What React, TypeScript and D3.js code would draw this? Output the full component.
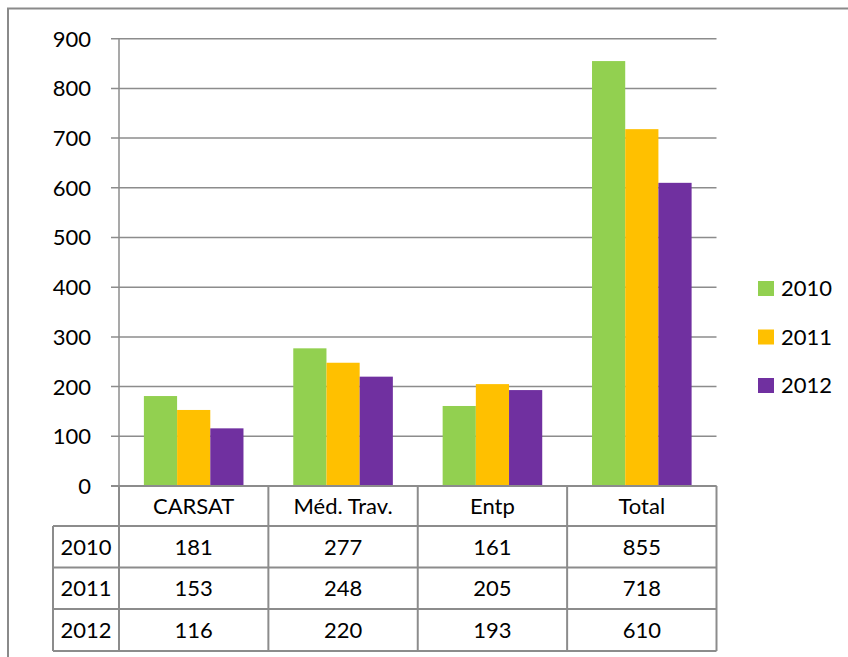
import React, { useEffect, useRef } from "react";
import * as d3 from "d3";

// categories and series
const categories = ["CARSAT", "Méd. Trav.", "Entp", "Total"];
const years = ["2010", "2011", "2012"];
const values2010 = [181, 277, 161, 855];
const values2011 = [153, 248, 205, 718];
const values2012 = [116, 220, 193, 610];
const yTicks = [0, 100, 200, 300, 400, 500, 600, 700, 800, 900];
const colors = ["#92D050", "#FFC000", "#7030A0"];

export default function App() {
  const ref = useRef<SVGSVGElement | null>(null);

  useEffect(() => {
    const width = 848;
    const height = 657;
    const font = "Lato, 'Open Sans', sans-serif";
    const fontSize = 22;
    const grid = "#8c8c8c";
    const plot = { left: 119, right: 716.5, top: 38.7, bottom: 486 };
    const rowLines = [526, 567.5, 609, 651];
    const labelColLeft = 53;

    const series = [values2010, values2011, values2012];

    const svg = d3.select(ref.current);
    svg.selectAll("*").remove();
    svg.attr("width", width).attr("height", height).attr("viewBox", [0, 0, width, height]);

    svg.append("rect").attr("width", width).attr("height", height).attr("fill", "white");

    // outer chart frame (only top and left are in view)
    svg
      .append("path")
      .attr("d", `M8,${height} L8,8.5 L${width},8.5`)
      .attr("fill", "none")
      .attr("stroke", "#8a8a8a")
      .attr("stroke-width", 2);

    const x = d3.scaleBand().domain(categories).range([plot.left, plot.right]).padding(0);
    const xs = d3
      .scaleBand()
      .domain(years)
      .range([0, x.bandwidth()])
      .paddingInner(0)
      .paddingOuter(0.75);
    const y = d3.scaleLinear().domain([0, 900]).range([plot.bottom, plot.top]);

    // gridlines + tick marks
    const gridG = svg.append("g");
    gridG
      .selectAll("line")
      .data(yTicks)
      .join("line")
      .attr("x1", plot.left - 8)
      .attr("x2", plot.right)
      .attr("y1", d => y(d))
      .attr("y2", d => y(d))
      .attr("stroke", grid)
      .attr("stroke-width", 1.5);

    gridG
      .append("line")
      .attr("x1", plot.left)
      .attr("x2", plot.left)
      .attr("y1", plot.top)
      .attr("y2", plot.bottom)
      .attr("stroke", grid)
      .attr("stroke-width", 1.5);

    svg
      .append("g")
      .attr("font-family", font)
      .attr("font-size", fontSize)
      .attr("text-anchor", "end")
      .selectAll("text")
      .data(yTicks)
      .join("text")
      .attr("x", 91)
      .attr("y", d => y(d))
      .attr("dy", "0.36em")
      .text(d => d);

    // bars
    const serie = svg
      .append("g")
      .selectAll("g")
      .data(series)
      .join("g")
      .attr("fill", (d, i) => colors[i]);

    serie
      .selectAll("rect")
      .data((d, i) => d.map((v, j) => ({ v, cat: categories[j], year: years[i] })))
      .join("rect")
      .attr("x", d => (x(d.cat) as number) + (xs(d.year) as number))
      .attr("width", xs.bandwidth())
      .attr("y", d => y(d.v))
      .attr("height", d => y(0) - y(d.v));

    // data table
    const table = svg.append("g").attr("stroke", grid).attr("stroke-width", 2);
    // horizontal lines
    table
      .selectAll("line.h")
      .data(rowLines)
      .join("line")
      .attr("class", "h")
      .attr("x1", labelColLeft)
      .attr("x2", plot.right)
      .attr("y1", d => d)
      .attr("y2", d => d);
    // category column boundaries
    const bounds = categories.map(c => x(c) as number).concat([plot.right]);
    table
      .selectAll("line.v")
      .data(bounds)
      .join("line")
      .attr("class", "v")
      .attr("x1", d => d)
      .attr("x2", d => d)
      .attr("y1", plot.bottom)
      .attr("y2", rowLines[rowLines.length - 1]);
    table
      .append("line")
      .attr("x1", labelColLeft)
      .attr("x2", labelColLeft)
      .attr("y1", rowLines[0])
      .attr("y2", rowLines[rowLines.length - 1]);

    // x axis line (on top of bars)
    svg
      .append("line")
      .attr("x1", plot.left - 8)
      .attr("x2", plot.right)
      .attr("y1", plot.bottom)
      .attr("y2", plot.bottom)
      .attr("stroke", grid)
      .attr("stroke-width", 2);

    const textG = svg
      .append("g")
      .attr("font-family", font)
      .attr("font-size", fontSize)
      .attr("text-anchor", "middle");

    textG
      .selectAll("text.cat")
      .data(categories)
      .join("text")
      .attr("class", "cat")
      .attr("x", d => (x(d) as number) + x.bandwidth() / 2)
      .attr("y", (plot.bottom + rowLines[0]) / 2)
      .attr("dy", "0.36em")
      .text(d => d);

    years.forEach((yr, i) => {
      const cy = (rowLines[i] + rowLines[i + 1]) / 2;
      textG
        .append("text")
        .attr("x", (labelColLeft + plot.left) / 2)
        .attr("y", cy)
        .attr("dy", "0.36em")
        .text(yr);
      textG
        .append("g")
        .selectAll("text")
        .data(series[i])
        .join("text")
        .attr("x", (d, j) => (x(categories[j]) as number) + x.bandwidth() / 2)
        .attr("y", cy)
        .attr("dy", "0.36em")
        .text(d => d);
    });

    // legend
    const legendY = d3.scalePoint().domain(years).range([288.5, 385.5]);
    const legend = svg
      .append("g")
      .attr("font-family", font)
      .attr("font-size", fontSize)
      .selectAll("g")
      .data(years)
      .join("g")
      .attr("transform", d => `translate(758,${legendY(d)})`);
    legend
      .append("rect")
      .attr("x", 0)
      .attr("y", -7.5)
      .attr("width", 16)
      .attr("height", 15)
      .attr("fill", (d, i) => colors[i]);
    legend
      .append("text")
      .attr("x", 23)
      .attr("dy", "0.36em")
      .text(d => d);
  }, []);

  return (
    <svg
      ref={ref}
      style={{ position: "absolute", left: 0, top: 0, display: "block" }}
    />
  );
}
